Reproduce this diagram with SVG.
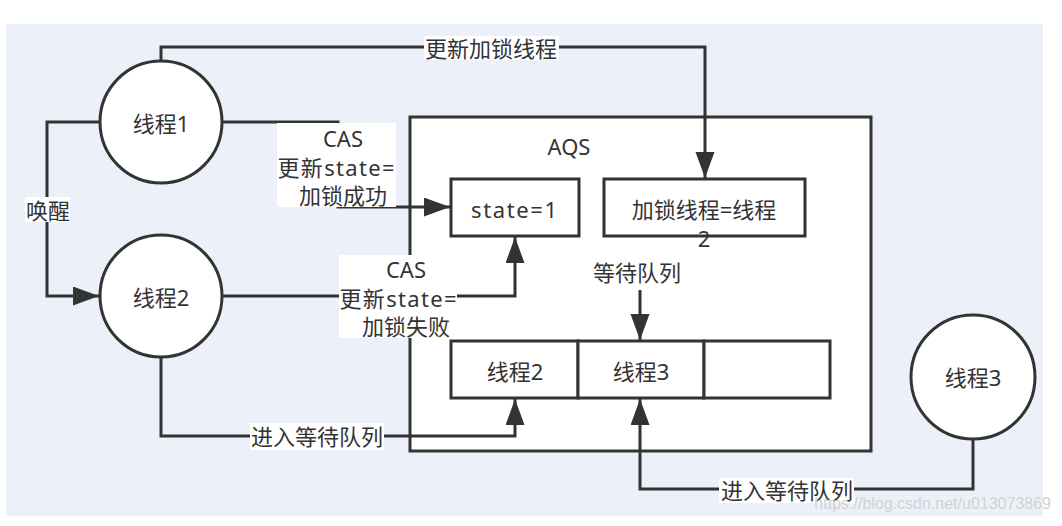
<svg xmlns="http://www.w3.org/2000/svg" width="1062" height="526" viewBox="0 0 1062 526">
<defs>
<style>
.ln{fill:none;stroke:#333;stroke-width:3}
.bx{fill:#fff;stroke:#333;stroke-width:3}
.t{font-family:"Noto Sans","Noto Sans CJK SC",sans-serif;font-size:22px;fill:#333;text-anchor:middle;dominant-baseline:central}
.lb{fill:#fff}
</style>
<marker id="ah" markerUnits="userSpaceOnUse" markerWidth="27" markerHeight="20" refX="26" refY="9.5" orient="auto" viewBox="0 0 27 20">
<path d="M0,0 L26,9.5 L0,19 Z" fill="#333"/>
</marker>
</defs>
<rect x="0" y="0" width="1062" height="526" fill="#fff"/>
<rect x="6" y="24" width="1037" height="492" fill="#ECF1F9"/>

<g id="aqs">
<rect class="bx" x="410" y="117" width="461" height="334"/>
<text class="t" x="569" y="146">AQS</text>
</g>
<g id="state">
<rect class="bx" x="451" y="179" width="128" height="57"/>
<text class="t" x="514" y="209" textLength="86" lengthAdjust="spacing">state=1</text>
</g>
<g id="lockthread">
<rect class="bx" x="604" y="179" width="201" height="57"/>
<text class="t" x="704" y="209">加锁线程=线程</text>
<text class="t" x="704" y="238">2</text>
</g>
<g id="queue">
<rect class="bx" x="451" y="341" width="127" height="57"/>
<rect class="bx" x="578" y="341" width="126" height="57"/>
<rect class="bx" x="704" y="341" width="126" height="57"/>
<text class="t" x="515" y="371">线程2</text>
<text class="t" x="641" y="371">线程3</text>
</g>
<g id="queuelabel">
<text class="t" x="637" y="272">等待队列</text>
</g>

<g id="connectors">
<path class="ln" d="M161,61 V47 H705 V178" marker-end="url(#ah)"/>
<path class="ln" d="M222,122 H338 V207 H450" marker-end="url(#ah)"/>
<path class="ln" d="M100,122 H47 V296 H99" marker-end="url(#ah)"/>
<path class="ln" d="M222,296 H515 V237" marker-end="url(#ah)"/>
<path class="ln" d="M161,357 V436 H515 V399" marker-end="url(#ah)"/>
<path class="ln" d="M640,290 V340" marker-end="url(#ah)"/>
<path class="ln" d="M973,439 V489 H640 V399" marker-end="url(#ah)"/>
</g>

<g id="edgelabels">
<rect class="lb" x="424" y="36" width="135" height="24"/>
<text class="t" x="491" y="48">更新加锁线程</text>
<rect class="lb" x="25" y="197" width="45" height="25"/>
<text class="t" x="48" y="210">唤醒</text>
<rect class="lb" x="277" y="123" width="119" height="84"/>
<text class="t" x="343" y="138">CAS</text>
<text class="t" x="336" y="167" textLength="117" lengthAdjust="spacing">更新state=</text>
<text class="t" x="343" y="195">加锁成功</text>
<rect class="lb" x="339" y="255" width="118" height="83"/>
<text class="t" x="406" y="269">CAS</text>
<text class="t" x="398" y="298" textLength="117" lengthAdjust="spacing">更新state=</text>
<text class="t" x="406" y="326">加锁失败</text>
<rect class="lb" x="250" y="423" width="134" height="27"/>
<text class="t" x="317" y="436">进入等待队列</text>
<rect class="lb" x="719" y="478" width="135" height="25"/>
<text class="t" x="787" y="490">进入等待队列</text>
</g>

<g id="thread1">
<circle class="bx" cx="161" cy="122" r="61"/>
<text class="t" x="161" y="123">线程1</text>
</g>
<g id="thread2">
<circle class="bx" cx="161" cy="296" r="61"/>
<text class="t" x="161" y="297">线程2</text>
</g>
<g id="thread3">
<circle class="bx" cx="973" cy="377" r="62"/>
<text class="t" x="973" y="377">线程3</text>
</g>

<text x="1051" y="509" font-family="Liberation Sans, Arial, sans-serif" font-size="16" fill="#d2d2d2" text-anchor="end">https://blog.csdn.net/u013073869</text>
</svg>
